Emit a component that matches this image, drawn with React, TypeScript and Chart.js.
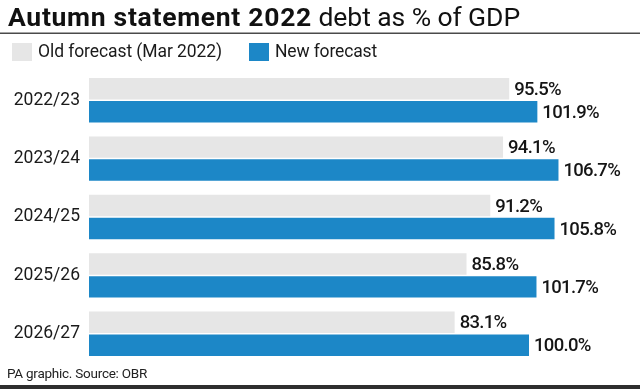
import React, { useEffect, useRef } from 'react';
import { Chart, registerables } from 'chart.js';

Chart.register(...registerables);

const categories = ['2022/23', '2023/24', '2024/25', '2025/26', '2026/27'];
const oldForecast = [95.5, 94.1, 91.2, 85.8, 83.1];
const newForecast = [101.9, 106.7, 105.8, 101.7, 100.0];
const seriesLabels = ['Old forecast (Mar 2022)', 'New forecast'];
const seriesColors = ['#e6e6e6', '#1c87c7'];
const titleBold = 'Autumn statement 2022';
const titleRegular = ' debt as % of GDP';
const sourceText = 'PA graphic. Source: OBR';

const FONT = 'Roboto, "Liberation Sans", Arial, sans-serif';

function fitText(ctx: CanvasRenderingContext2D, text: string, x: number, y: number, target: number) {
  (ctx as any).letterSpacing = '0px';
  const w = ctx.measureText(text).width;
  const n = Math.max(1, text.length);
  const ls = (target - w) / n;
  (ctx as any).letterSpacing = ls.toFixed(2) + 'px';
  ctx.fillText(text, x, y);
  (ctx as any).letterSpacing = '0px';
}

const decorPlugin = {
  id: 'decor',
  afterDraw(chart: any) {
    const ctx: CanvasRenderingContext2D = chart.ctx;
    ctx.save();
    ctx.textAlign = 'left';
    ctx.textBaseline = 'alphabetic';
    ctx.fillStyle = '#111111';
    // title
    ctx.font = `bold 26.5px ${FONT}`;
    fitText(ctx, titleBold, 8, 25.5, 304);
    ctx.font = `26.5px ${FONT}`;
    fitText(ctx, titleRegular, 312, 25.5, 208);
    // rule under title
    ctx.fillStyle = '#4a4a4a';
    ctx.fillRect(0, 32.5, 640, 1.5);
    // legend
    const boxes = [
      { x: 12, tx: 38, w: 184 },
      { x: 249, tx: 275, w: 102 },
    ];
    chart.data.datasets.forEach((ds: any, i: number) => {
      const b = boxes[i];
      ctx.fillStyle = ds.backgroundColor;
      ctx.fillRect(b.x, 43, 20, 18);
      ctx.fillStyle = '#1a1a1a';
      ctx.font = `17.5px ${FONT}`;
      ctx.textBaseline = 'middle';
      fitText(ctx, ds.label, b.tx, 52.5, b.w);
    });
    // value labels
    ctx.font = `500 18.5px ${FONT}`;
    ctx.fillStyle = '#151515';
    ctx.textBaseline = 'middle';
    chart.data.datasets.forEach((ds: any, i: number) => {
      const meta = chart.getDatasetMeta(i);
      meta.data.forEach((bar: any, j: number) => {
        const v = ds.data[j] as number;
        const txt = v.toFixed(1) + '%';
        (ctx as any).letterSpacing = '-0.7px';
        ctx.fillText(txt, bar.x + 5, bar.y + 1.5);
      });
    });
    (ctx as any).letterSpacing = '0px';
    // footer
    ctx.font = `13.5px ${FONT}`;
    ctx.fillStyle = '#222222';
    ctx.textBaseline = 'alphabetic';
    fitText(ctx, sourceText, 7, 378, 140);
    // bottom border
    ctx.fillStyle = '#2e2e2e';
    ctx.fillRect(0, 385, 640, 4);
    ctx.restore();
  },
};

export default function App() {
  const ref = useRef<HTMLCanvasElement | null>(null);
  useEffect(() => {
    if (!ref.current) return;
    const chart = new Chart(ref.current, {
      type: 'bar',
      data: {
        labels: categories,
        datasets: [
          {
            label: seriesLabels[0],
            data: oldForecast,
            backgroundColor: seriesColors[0],
            categoryPercentage: 0.786,
            barPercentage: 0.935,
          },
          {
            label: seriesLabels[1],
            data: newForecast,
            backgroundColor: seriesColors[1],
            categoryPercentage: 0.786,
            barPercentage: 0.935,
          },
        ],
      },
      options: {
        indexAxis: 'y',
        responsive: false,
        animation: false,
        devicePixelRatio: 1,
        layout: { padding: { top: 71, bottom: 26, left: 0, right: 23 } },
        plugins: {
          legend: { display: false },
          title: { display: false },
          tooltip: { enabled: false },
        },
        scales: {
          x: { display: false, min: 0, max: 120 },
          y: {
            grid: { display: false, drawTicks: false },
            border: { display: false },
            ticks: {
              color: '#1a1a1a',
              font: { family: FONT, size: 17.5 },
              padding: 9,
            },
            afterFit: (scale: any) => {
              scale.width = 89;
            },
          },
        },
      },
      plugins: [decorPlugin],
    });
    return () => chart.destroy();
  }, []);
  return (
    <div style={{ position: 'fixed', left: 0, top: 0, width: 640, height: 389, background: '#ffffff' }}>
      <canvas ref={ref} width={640} height={389} style={{ display: 'block', width: 640, height: 389 }} />
    </div>
  );
}
